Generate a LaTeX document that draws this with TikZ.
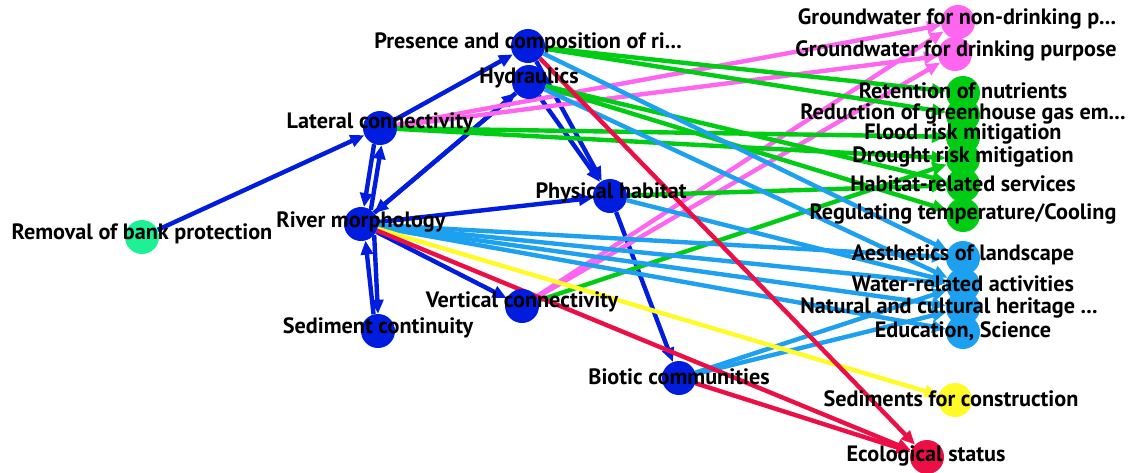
\documentclass[tikz,border=0pt]{standalone}
\usepackage{fontspec}
\usetikzlibrary{arrows.meta,backgrounds}
\newfontfamily\lblfamily{PT Sans}
\definecolor{cblue}{RGB}{0,28,222}
\definecolor{cmint}{RGB}{30,240,150}
\definecolor{cpink}{RGB}{255,102,240}
\definecolor{cgreen}{RGB}{0,204,20}
\definecolor{csky}{RGB}{30,160,240}
\definecolor{cyellow}{RGB}{255,250,40}
\definecolor{cred}{RGB}{235,15,70}
\tikzset{
  dot/.style={circle, minimum size=34pt, inner sep=0pt, fill=#1},
  lbl/.style={font=\lblfamily\bfseries\fontsize{22.2}{24}\selectfont, text=black, inner sep=0pt, anchor=center},
  link/.style={line width=4.4pt, draw=#1, -{Triangle[length=14pt,width=12pt]}},
}
\begin{document}
\begin{tikzpicture}[x=1pt,y=-1pt]
\useasboundingbox (0,0) rectangle (1137,472);

% ---- nodes (circles) ----
\node[dot=cmint] (removal) at (142,237) {};
\node[dot=cblue] (lateral) at (380,128) {};
\node[dot=cblue] (presence) at (528,46) {};
\node[dot=cblue] (hydraulics) at (529,82) {};
\node[dot=cblue] (rivermorph) at (361,224) {};
\node[dot=cblue] (physical) at (610,196) {};
\node[dot=cblue] (sediment) at (378,331) {};
\node[dot=cblue] (vertical) at (522,306) {};
\node[dot=cblue] (biotic) at (679,378) {};
\node[dot=cpink] (gwnon) at (958,22) {};
\node[dot=cpink] (gwdrink) at (955,54) {};
\node[dot=cgreen] (retention) at (963,93) {};
\node[dot=cgreen] (reduction) at (963,115) {};
\node[dot=cgreen] (flood) at (963,137) {};
\node[dot=cgreen] (drought) at (963,159) {};
\node[dot=cgreen] (habitat) at (963,185) {};
\node[dot=cgreen] (regulating) at (963,215) {};
\node[dot=csky] (aesthetics) at (963,258) {};
\node[dot=csky] (water) at (963,285) {};
\node[dot=csky] (natural) at (963,308) {};
\node[dot=csky] (education) at (963,332) {};
\node[dot=cyellow] (sedconstr) at (955,400) {};
\node[dot=cred] (ecol) at (927,457) {};

% ---- connectors, kept behind the circles ----
\begin{pgfonlayer}{background}
\fill[white] (0,0) rectangle (1137,472);
% structural links
\draw[link=cblue] (removal) -- (lateral);
\draw[link=cblue] (lateral) -- (presence);
\draw[link=cblue] (lateral.250) -- (rivermorph.80);
\draw[link=cblue] (rivermorph.55) -- (lateral.275);
\draw[link=cblue] (rivermorph) -- (hydraulics);
\draw[link=cblue] (hydraulics) -- (rivermorph);
\draw[link=cblue] (rivermorph.-40) -- (sediment.90);
\draw[link=cblue] (sediment.105) -- (rivermorph.-75);
\draw[link=cblue] (rivermorph) -- (physical);
\draw[link=cblue] (rivermorph) -- (vertical);
\draw[link=cblue] (presence) -- (physical);
\draw[link=cblue] (hydraulics) -- (physical);
\draw[link=cblue] (physical) -- (biotic);
% groundwater
\draw[link=cpink] (lateral) -- (gwnon);
\draw[link=cpink] (lateral) -- (gwdrink);
\draw[link=cpink] (vertical) -- (gwnon);
\draw[link=cpink] (vertical) -- (gwdrink);
% regulating services
\draw[link=cgreen] (presence) -- (retention);
\draw[link=cgreen] (presence) -- (reduction);
\draw[link=cgreen] (hydraulics) -- (habitat);
\draw[link=cgreen] (hydraulics) -- (regulating);
\draw[link=cgreen] (lateral) -- (flood);
\draw[link=cgreen] (lateral) -- (drought);
\draw[link=cgreen] (physical) -- (habitat);
\draw[link=cgreen] (vertical) -- (drought);
% cultural services
\draw[link=csky] (presence) -- (aesthetics);
\draw[link=csky] (hydraulics) -- (water);
\draw[link=csky] (rivermorph) -- (aesthetics);
\draw[link=csky] (rivermorph) -- (water);
\draw[link=csky] (rivermorph) -- (natural);
\draw[link=csky] (rivermorph) -- (education);
\draw[link=csky] (physical) -- (water);
\draw[link=csky] (biotic) -- (water);
\draw[link=csky] (biotic) -- (natural);
% material and status
\draw[link=cyellow] (rivermorph) -- (sedconstr);
\draw[link=cred] (presence) -- (ecol);
\draw[link=cred] (rivermorph) -- (ecol);
\draw[link=cred] (biotic) -- (ecol);
\end{pgfonlayer}

% ---- labels ----
\node[lbl] (removal-l) at (142,234) {Removal of bank protection};
\node[lbl] (lateral-l) at (380,123) {Lateral connectivity};
\node[lbl] (presence-l) at (528,43) {Presence and composition of ri...};
\node[lbl] (hydraulics-l) at (529,78) {Hydraulics};
\node[lbl] (rivermorph-l) at (361,222) {River morphology};
\node[lbl] (physical-l) at (611,193) {Physical habitat};
\node[lbl] (sediment-l) at (378,328) {Sediment continuity};
\node[lbl] (vertical-l) at (522,302) {Vertical connectivity};
\node[lbl] (biotic-l) at (679,377) {Biotic communities};
\node[lbl] (gwnon-l) at (957,19) {Groundwater for non-drinking p...};
\node[lbl] (gwdrink-l) at (956,51) {Groundwater for drinking purpose};
\node[lbl] (retention-l) at (963,91) {Retention of nutrients};
\node[lbl] (reduction-l) at (963,114) {Reduction of greenhouse gas em...};
\node[lbl] (flood-l) at (963,134) {Flood risk mitigation};
\node[lbl] (drought-l) at (963,157) {Drought risk mitigation};
\node[lbl] (habitat-l) at (963,184) {Habitat-related services};
\node[lbl] (regulating-l) at (963,214) {Regulating temperature/Cooling};
\node[lbl] (aesthetics-l) at (963,255) {Aesthetics of landscape};
\node[lbl] (water-l) at (963,284) {Water-related activities};
\node[lbl] (natural-l) at (949,308) {Natural and cultural heritage ...};
\node[lbl] (education-l) at (963,331) {Education, Science};
\node[lbl] (sedconstr-l) at (951,399) {Sediments for construction};
\node[lbl] (ecol-l) at (926,456) {Ecological status};
\end{tikzpicture}
\end{document}
